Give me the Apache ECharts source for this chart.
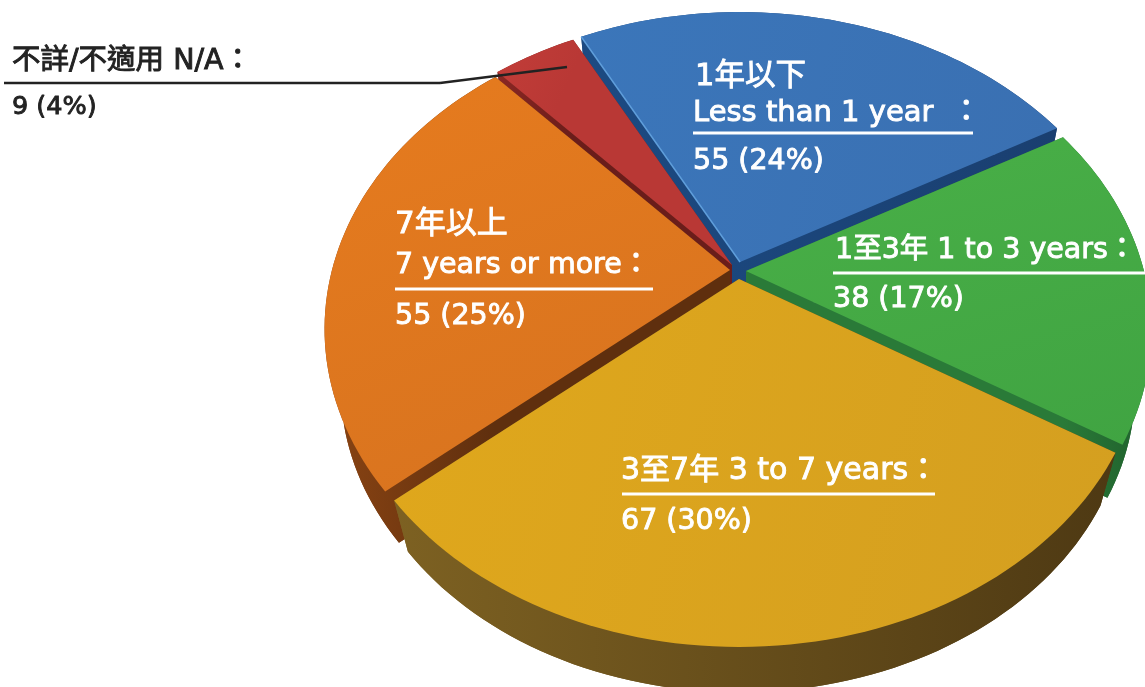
<!DOCTYPE html>
<html>
<head>
<meta charset="utf-8">
<style>html,body{margin:0;padding:0;background:#fff;overflow:hidden}#c{width:1145px;height:687px}</style>
<script src="https://cdn.jsdelivr.net/npm/echarts@6/dist/echarts.min.js"></script>
</head>
<body>
<div id="c"></div>
<script>
const categories = ['1年以下', '1至3年', '3至7年', '7年以上', '不詳/不適用'];
const values = [55, 38, 67, 55, 9];
const percents = [24, 17, 30, 25, 4];
const startAngle = -27.8;

const faceColors = [
  ['#3b76ba', '#3a70b2'], ['#47ad46', '#40a442'], ['#dfa71c', '#d49f20'],
  ['#e67b1e', '#d9741f'], ['#c23d38', '#b93835']
];
const wallColors = [
  ['#1c4a82', '#1a3f70'], ['#2a7a38', '#1f5f2c'], ['#7d6122', '#4e3913'],
  ['#8a4413', '#5f2f0e'], ['#8a2723', '#6a1d1a']
];
const apexes = [[740, 262], [746, 271], [739, 279], [730, 270], [732, 265]];
const stackOrder = [1, 4, 5, 3, 2];

const A = 398, B = 297.7, K = 0.191, DROP = 60, SHRINK = 0.96;
const total = values.reduce((s, v) => s + v, 0);

function topPoint(deg, apex) {
  const r = deg * Math.PI / 180, X = Math.sin(r), Y = -Math.cos(r), w = 1 - K * Y;
  return [apex[0] + A * X / w, apex[1] + B * Y / w];
}
function lowPoint(p, apex) {
  return [apex[0] + (p[0] - apex[0]) * SHRINK, apex[1] + DROP + (p[1] - apex[1]) * SHRINK];
}
function grad(stops, x, x2, y, y2) {
  return { type: 'linear', global: true, x, y, x2, y2,
    colorStops: [{ offset: 0, color: stops[0] }, { offset: 1, color: stops[1] }] };
}
function renderSlice(params, api) {
  const i = params.dataIndex, apex = apexes[i];
  let before = 0;
  for (let j = 0; j < i; j++) before += values[j];
  const a0 = startAngle + before / total * 360;
  const a1 = a0 + api.value(0) / total * 360;
  const arc = [];
  const steps = Math.ceil((a1 - a0) / 1.5);
  for (let s = 0; s <= steps; s++) arc.push(topPoint(a0 + (a1 - a0) * s / steps, apex));
  const low = arc.map(p => lowPoint(p, apex));
  const lowApex = lowPoint(apex, apex);
  const xs = arc.map(p => p[0]), ys = arc.map(p => p[1]);
  const wall = grad(wallColors[i], Math.min(...xs), Math.max(...xs), 0, 0);
  const face = grad(faceColors[i], Math.min(...xs), Math.max(...xs), Math.min(...ys), Math.max(...ys));
  const z = stackOrder[i] * 10;
  const poly = (points, fill, z2) => ({ type: 'polygon', z2, shape: { points }, style: { fill } });
  const children = [
    poly([lowApex].concat(low), wall, z),
    poly(arc.concat(low.slice().reverse()), wall, z),
    poly([apex, arc[0], low[0], lowApex], wall, z),
    poly([apex, arc[arc.length - 1], low[low.length - 1], lowApex], wall, z),
    poly([apex].concat(arc), face, z + 1)
  ];
  if (i === 0) {
    children.push({ type: 'line', z2: z + 2,
      shape: { x1: apex[0], y1: apex[1], x2: arc[0][0], y2: arc[0][1] },
      style: { stroke: '#5f9edb', lineWidth: 1.5 } });
  }
  return { type: 'group', children };
}

const FONT = '"DejaVu Sans","Noto Sans CJK TC",sans-serif';
function txt(text, x, y, size, fill) {
  return { type: 'text', z: 50, x, y,
    style: { text, fill, font: size + 'px ' + FONT, textAlign: 'left', textVerticalAlign: 'middle',
      stroke: fill, lineWidth: 0.9 } };
}
function rule(x1, y1, x2, y2, stroke, w) {
  return { type: 'line', z: 50, shape: { x1, y1, x2, y2 }, style: { stroke, lineWidth: w } };
}
const amount = i => values[i] + ' (' + percents[i] + '%)';
const WHITE = '#ffffff', INK = '#222222';
const graphics = [
  txt(categories[0], 695, 77, 30.5, WHITE),
  txt('Less than 1 year  ：', 693, 113, 29, WHITE),
  rule(693, 133, 973, 133, WHITE, 3),
  txt(amount(0), 693, 162, 28.5, WHITE),

  txt(categories[1] + ' 1 to 3 years：', 835, 251, 28.5, WHITE),
  rule(833, 273, 1145, 273, WHITE, 3),
  txt(amount(1), 833, 300, 28.5, WHITE),

  txt(categories[2] + ' 3 to 7 years：', 621, 471, 30, WHITE),
  rule(622, 494, 935, 494, WHITE, 3),
  txt(amount(2), 621, 522, 28.5, WHITE),

  txt(categories[3], 395, 225, 31, WHITE),
  txt('7 years or more：', 395, 266, 28.5, WHITE),
  rule(395, 289, 653, 289, WHITE, 3),
  txt(amount(3), 395, 317, 28.5, WHITE),

  txt(categories[4] + ' N/A：', 12, 62, 28.5, INK),
  rule(4, 83, 440, 83, INK, 2.5),
  rule(440, 83, 567, 67, INK, 2.5),
  txt(amount(4), 12, 107, 25.5, INK)
];

const chart = echarts.init(document.getElementById('c'), null, { renderer: 'canvas' });
chart.setOption({
  animation: false,
  backgroundColor: '#ffffff',
  series: [{
    type: 'custom',
    coordinateSystem: 'none',
    clip: false,
    renderItem: renderSlice,
    data: values.map(v => [v])
  }],
  graphic: { elements: graphics }
});
</script>
</body>
</html>
